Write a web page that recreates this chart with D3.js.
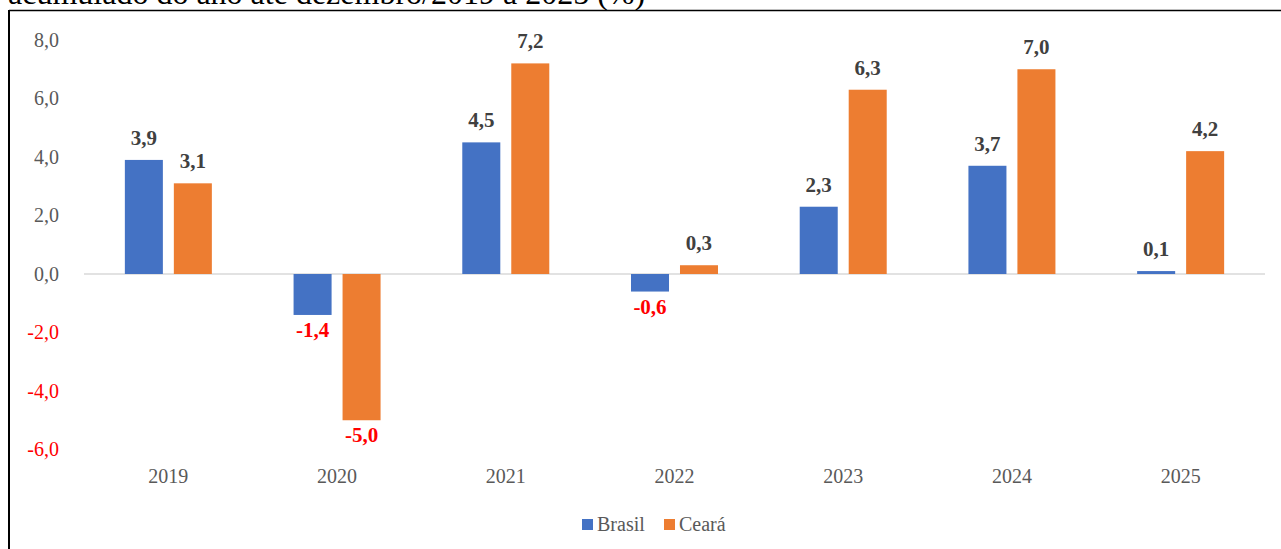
<!DOCTYPE html>
<html><head><meta charset="utf-8">
<script src="https://cdn.jsdelivr.net/npm/d3@7/dist/d3.min.js"></script>
<style>body{margin:0;background:#fff;} svg{display:block;} text{font-family:'Liberation Serif','Times New Roman',serif;}</style>
</head><body>
<script>
const categories = ["2019","2020","2021","2022","2023","2024","2025"];
const seriesNames = ["Brasil","Ceará"];
const brasil = [3.9,-1.4,4.5,-0.6,2.3,3.7,0.1];
const ceara = [3.1,-5.0,7.2,0.3,6.3,7.0,4.2];
const yTicks = [-6,-4,-2,0,2,4,6,8];
const colors = ["#4472C4","#ED7D31"];
const title = "acumulado do ano até dezembro/2019 a 2025 (%)";

const W=1281,H=549;
const svg=d3.select("body").append("svg").attr("width",W).attr("height",H);
const fmt=v=>d3.format(".1f")(v).replace(".",",").replace("−","-");

svg.append("text").attr("x",8).attr("y",4).style("font-size","32px").attr("fill","#000").text(title);
svg.append("line").attr("x1",9).attr("x2",W).attr("y1",10.5).attr("y2",10.5).attr("stroke","#000").attr("stroke-width",1.5);
svg.append("line").attr("x1",9).attr("x2",9).attr("y1",10).attr("y2",H).attr("stroke","#000").attr("stroke-width",2);

const y=d3.scaleLinear().domain([-6,8]).range([449.5,40]);
const x=d3.scaleBand().domain(categories).range([84,1265]).paddingInner(0).paddingOuter(0);
const half=43.5;
const sub=d3.scaleBand().domain(seriesNames).range([x.bandwidth()/2-half,x.bandwidth()/2+half]).paddingInner(0.224).paddingOuter(0);

const yAxis=d3.axisLeft(y).tickValues(yTicks).tickSize(0).tickFormat(fmt);
const ga=svg.append("g").attr("transform","translate(62,0)").call(yAxis);
ga.attr("font-family",null).attr("font-size",null);
ga.select(".domain").remove();
ga.selectAll("text").style("font-size","20px").attr("fill",d=>d<0?"#FF0000":"#595959");

const xAxis=d3.axisBottom(x).tickSize(0);
const gx=svg.append("g").attr("transform","translate(0,466)").call(xAxis);
gx.attr("font-family",null).attr("font-size",null);
gx.select(".domain").remove();
gx.selectAll("text").style("font-size","20px").attr("fill","#595959");

svg.append("line").attr("x1",84).attr("x2",1265).attr("y1",y(0)).attr("y2",y(0)).attr("stroke","#d9d9d9").attr("stroke-width",1.5);

const data=categories.map((c,i)=>({c,vals:[{s:"Brasil",v:brasil[i]},{s:"Ceará",v:ceara[i]}]}));
const g=svg.selectAll(".cat").data(data).join("g").attr("transform",d=>`translate(${x(d.c)},0)`);
g.selectAll("rect").data(d=>d.vals).join("rect")
 .attr("x",d=>sub(d.s)).attr("width",sub.bandwidth())
 .attr("y",d=>y(Math.max(0,d.v))).attr("height",d=>Math.abs(y(d.v)-y(0)))
 .attr("fill",(d,i)=>colors[i]);
g.selectAll("text.lbl").data(d=>d.vals).join("text").attr("class","lbl")
 .attr("x",d=>sub(d.s)+sub.bandwidth()/2)
 .attr("y",d=>d.v>=0?y(d.v)-15:y(d.v)+22)
 .attr("text-anchor","middle").style("font-weight","bold").style("font-size","21px")
 .attr("fill",d=>d.v<0?"#FF0000":"#404040").text(d=>fmt(d.v));

const leg=svg.append("g").attr("transform","translate(582,519)");
const items=[{n:"Brasil",x:0},{n:"Ceará",x:82}];
items.forEach((it,i)=>{
  leg.append("rect").attr("x",it.x).attr("y",0).attr("width",11).attr("height",11).attr("fill",colors[i]);
  leg.append("text").attr("x",it.x+15).attr("y",11.5).style("font-size","20px").attr("fill","#595959").text(it.n);
});
</script>
</body></html>
